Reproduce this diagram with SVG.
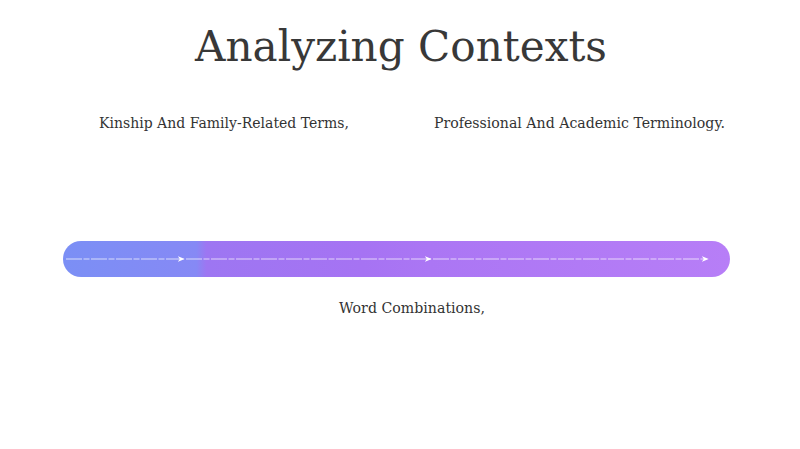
<svg xmlns="http://www.w3.org/2000/svg" width="800" height="449" viewBox="0 0 800 449">
  <defs>
    <linearGradient id="barGrad" x1="63" y1="0" x2="730" y2="0" gradientUnits="userSpaceOnUse">
      <stop offset="0" stop-color="#7b8ff5"/>
      <stop offset="0.2" stop-color="#8689f5"/>
      <stop offset="0.215" stop-color="#9d76f2"/>
      <stop offset="0.45" stop-color="#a673f3"/>
      <stop offset="0.55" stop-color="#ab76f4"/>
      <stop offset="1" stop-color="#b77ef7"/>
    </linearGradient>
    <marker id="arrow" viewBox="0 0 10 10" refX="9" refY="5" markerWidth="7" markerHeight="7" orient="auto" markerUnits="userSpaceOnUse">
      <path d="M0,1 L10,5 L0,9 L3,5 Z" fill="#ffffff"/>
    </marker>
    <style>
      .title { font-family: "DejaVu Serif", "Liberation Serif", serif; font-size: 42px; fill: #383838; }
      .label { font-family: "DejaVu Serif", "Liberation Serif", serif; font-size: 15px; fill: #333333; }
      .conn { stroke: #ffffff; stroke-opacity: 0.7; stroke-width: 1.2; fill: none; stroke-dasharray: 16 1.5 6 1.5; }
    </style>
  </defs>
  <rect width="800" height="449" fill="#ffffff"/>
  <g id="title">
    <text class="title" x="401" y="61" text-anchor="middle" textLength="412" lengthAdjust="spacingAndGlyphs">Analyzing Contexts</text>
  </g>
  <g id="timeline-bar">
    <rect x="63" y="241" width="667" height="36" rx="18" ry="18" fill="url(#barGrad)"/>
  </g>
  <g id="connectors">
    <path class="conn" d="M66,259 L184,259" marker-end="url(#arrow)"/>
    <path class="conn" d="M186,259 L431,259" marker-end="url(#arrow)"/>
    <path class="conn" d="M433,259 L708,259" marker-end="url(#arrow)"/>
  </g>
  <g id="node-kinship">
    <text class="label" x="99" y="128" textLength="250" lengthAdjust="spacingAndGlyphs">Kinship And Family-Related Terms,</text>
  </g>
  <g id="node-professional">
    <text class="label" x="434" y="128" textLength="291" lengthAdjust="spacingAndGlyphs">Professional And Academic Terminology.</text>
  </g>
  <g id="node-word-combinations">
    <text class="label" x="339" y="313" textLength="146" lengthAdjust="spacingAndGlyphs">Word Combinations,</text>
  </g>
</svg>
